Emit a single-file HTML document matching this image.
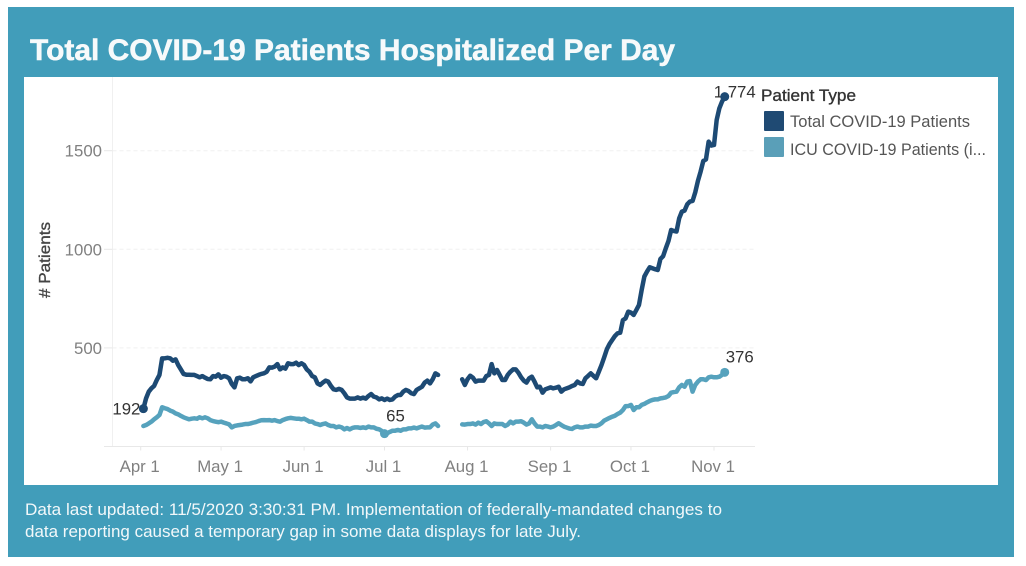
<!DOCTYPE html>
<html lang="en">
<head>
<meta charset="utf-8">
<title>Total COVID-19 Patients Hospitalized Per Day</title>
<style>
html,body{margin:0;padding:0;background:#fff;width:1026px;height:566px;overflow:hidden}
svg{display:block}
text{font-family:"Liberation Sans",sans-serif}
</style>
</head>
<body>
<svg id="chart" xmlns="http://www.w3.org/2000/svg" width="1026" height="566" viewBox="0 0 1026 566">
  <rect x="8" y="7" width="1006" height="550" fill="#419dba"/>
  <text x="30" y="60" fill="#f7fafb" font-size="30" font-weight="700" stroke="#f7fafb" stroke-width="0.5" textLength="645" lengthAdjust="spacingAndGlyphs">Total COVID-19 Patients Hospitalized Per Day</text>
  <rect x="24" y="77" width="974" height="408" fill="#ffffff"/>
  <g id="axes"></g>
  <text transform="translate(50,298) rotate(-90)" fill="#444" stroke="#444" stroke-width="0.35" font-size="16" textLength="76" lengthAdjust="spacingAndGlyphs"># Patients</text>
  <g id="labels"></g>
  <g id="marks"></g>
  <g>
    <text x="761" y="101" fill="#333" stroke="#333" stroke-width="0.35" font-size="17" textLength="95" lengthAdjust="spacingAndGlyphs">Patient Type</text>
    <rect x="764" y="111" width="20" height="20" rx="1" fill="#1f4a73"/>
    <text x="790" y="127" fill="#555" font-size="17" textLength="180" lengthAdjust="spacingAndGlyphs">Total COVID-19 Patients</text>
    <rect x="764" y="137" width="20" height="20" rx="1" fill="#5a9fb8"/>
    <text x="790" y="155" fill="#555" font-size="17" textLength="196" lengthAdjust="spacingAndGlyphs">ICU COVID-19 Patients (i...</text>
  </g>
  <text x="25" y="515" fill="#f2f8fa" font-size="17" textLength="697" lengthAdjust="spacingAndGlyphs">Data last updated: 11/5/2020 3:30:31 PM. Implementation of federally-mandated changes to</text>
  <text x="25" y="537" fill="#f2f8fa" font-size="17" textLength="556" lengthAdjust="spacingAndGlyphs">data reporting caused a temporary gap in some data displays for late July.</text>
</svg>
<script>
// Days are counted from Apr 1; the series start on day 1 (Apr 2). null = reporting gap.
const firstDay = 1;
const xTickDays = [0, 30, 61, 91, 122, 153, 183, 214];
const xTickLabels = ["Apr 1", "May 1", "Jun 1", "Jul 1", "Aug 1", "Sep 1", "Oct 1", "Nov 1"];
const yTicks = [500, 1000, 1500];
const totalPatients = [
192,244,278,295,307,337,363,447,447,450,447,435,442,413,391,368,364,364,363,363,
357,351,357,349,342,341,357,354,366,349,357,354,346,317,300,346,349,341,341,346,
330,351,357,363,368,371,379,401,400,405,418,391,401,395,422,418,418,425,413,422,
413,391,379,357,351,320,312,324,334,329,307,290,287,292,287,270,249,243,243,243,
249,243,248,243,256,266,253,249,239,244,236,243,236,239,253,261,261,278,287,281,
270,266,287,295,303,324,334,320,341,371,363,
null,null,null,null,null,null,null,null,
341,312,341,359,349,329,334,334,334,357,363,418,371,388,363,337,337,363,379,391,
391,374,351,334,324,346,354,329,300,303,273,290,295,300,295,298,303,278,290,295,
300,307,312,329,320,317,346,358,371,358,346,379,413,452,493,520,540,560,574,577,
641,650,684,679,667,692,718,794,862,887,909,904,899,895,951,965,1005,1042,1098,1093,
1090,1157,1191,1196,1228,1242,1245,1289,1347,1394,1448,1456,1546,1526,1529,1656,1715,1749,1774
];
const icuPatients = [
104,109,117,126,138,148,160,199,194,190,182,177,168,163,155,148,143,138,141,143,
141,148,143,148,143,134,129,126,123,126,121,117,112,97,104,107,109,111,114,114,
117,121,124,129,133,134,133,134,131,134,129,126,134,139,143,145,143,141,141,138,
141,134,126,126,117,114,109,114,117,109,104,104,97,101,97,87,94,87,94,97,
97,94,97,94,101,97,97,90,87,79,65,67,74,80,80,84,80,87,87,92,
92,96,92,97,101,96,97,97,111,117,104,
null,null,null,null,null,null,null,null,
112,111,114,114,117,111,121,114,124,128,117,104,117,114,114,114,104,111,126,117,
126,126,128,121,111,117,138,117,101,101,97,104,101,97,101,109,118,109,101,96,
91,89,97,101,97,97,101,101,106,104,104,109,118,131,138,145,151,156,165,172,
185,205,205,211,185,199,199,211,216,224,231,236,239,239,244,246,249,256,273,276,
278,300,312,303,329,332,278,312,329,341,341,337,351,354,351,351,354,363,376
];
const lowLabelDay = 91;

const NS = "http://www.w3.org/2000/svg";
const plotLeft = 112.5, plotRight = 755, plotTop = 77, plotBottom = 446.5;
function xScale(day){ return 140.7 + day * 2.679; }
function yScale(v){ return 446.5 - v * 0.1972; }
function fmt(v){ return String(v).replace(/\B(?=(\d{3})+$)/g, ","); }
function make(tag, attrs, parent){
  const el = document.createElementNS(NS, tag);
  for (const k in attrs) el.setAttribute(k, attrs[k]);
  parent.appendChild(el);
  return el;
}
const axes = document.getElementById("axes");
const labels = document.getElementById("labels");
const marks = document.getElementById("marks");

const yAxisLine = make("line", {x1:plotLeft, x2:plotLeft, y1:plotTop, y2:plotBottom, stroke:"#f0f0f0"}, axes);


const xAxisLine = make("line", {x1:104, x2:plotRight, y1:plotBottom, y2:plotBottom, stroke:"#e8e8e8"}, axes);



yTicks.forEach(function(t){
  const y = yScale(t);
  const grid = make("line", {x1:plotLeft, x2:plotRight, y1:y, y2:y, stroke:"#f0f0f0", "stroke-dasharray":"4 3"}, axes);
  
  
  const tick = make("line", {x1:104, x2:plotLeft, y1:y, y2:y, stroke:"#e8e8e8"}, axes);
  
  
  const txt = make("text", {x:102, y:y + 6, "text-anchor":"end", fill:"#808080", "font-size":16.8}, axes);
  
  
  txt.textContent = t;
});
xTickDays.forEach(function(d, i){
  const x = xScale(d);
  const tick = make("line", {x1:x, x2:x, y1:plotBottom, y2:plotBottom + 4, stroke:"#e8e8e8"}, axes);
  
  
  const txt = make("text", {x:x - 1, y:472, "text-anchor":"middle", fill:"#808080", "font-size":16.8}, axes);
  
  
  txt.textContent = xTickLabels[i];
});

function linePath(values){
  let d = "", pen = false;
  values.forEach(function(v, i){
    if (v === null) { pen = false; return; }
    d += (pen ? "L" : "M") + xScale(firstDay + i).toFixed(2) + " " + yScale(v).toFixed(2);
    pen = true;
  });
  return d;
}
function lastIndex(values){
  let i = values.length - 1;
  while (values[i] === null) i--;
  return i;
}

const totalLine = make("path", {d:linePath(totalPatients), fill:"none", stroke:"#1d4a74", "stroke-width":4.5, "stroke-linejoin":"round", "stroke-linecap":"round"}, marks);


const icuLine = make("path", {d:linePath(icuPatients), fill:"none", stroke:"#56a2bd", "stroke-width":4.5, "stroke-linejoin":"round", "stroke-linecap":"round"}, marks);



function dot(values, i, color){
  const c = make("circle", {cx:xScale(firstDay + i), cy:yScale(values[i]), r:4.5, fill:color}, marks);
  
  
}
function valueLabel(values, i, dx, dy, anchor){
  const t = make("text", {x:xScale(firstDay + i) + dx, y:yScale(values[i]) + dy, "text-anchor":anchor, fill:"#333", "font-size":16.8}, labels);
  
  
  t.textContent = fmt(values[i]);
}
const totalEnd = lastIndex(totalPatients);
const icuEnd = lastIndex(icuPatients);
const icuLow = lowLabelDay - firstDay;
dot(totalPatients, 0, "#1d4a74");
dot(totalPatients, totalEnd, "#1d4a74");
dot(icuPatients, icuLow, "#56a2bd");
dot(icuPatients, icuEnd, "#56a2bd");
valueLabel(totalPatients, 0, -3, 6, "end");
valueLabel(totalPatients, totalEnd, 31, 1, "end");
valueLabel(icuPatients, icuLow, 11, -12, "middle");
valueLabel(icuPatients, icuEnd, 15, -10, "middle");
</script>
</body>
</html>
